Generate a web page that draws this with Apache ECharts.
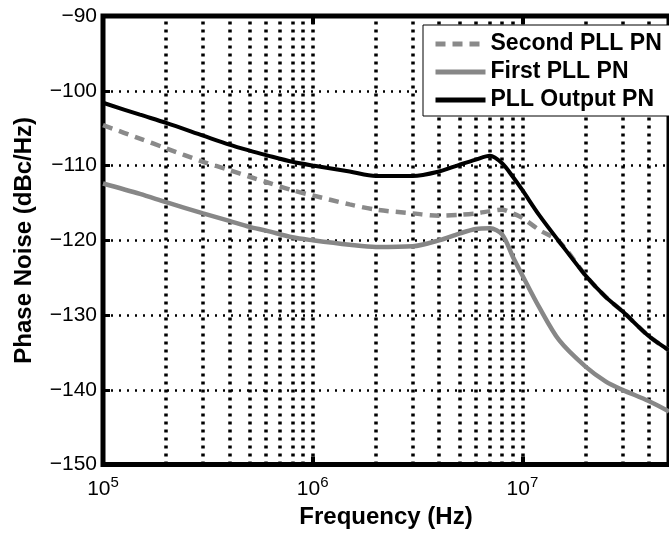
<!DOCTYPE html>
<html>
<head>
<meta charset="utf-8">
<script src="https://cdn.jsdelivr.net/npm/echarts@6/dist/echarts.min.js"></script>
<style>
  html, body { margin: 0; padding: 0; background: #fff; }
  #chart { width: 669px; height: 534px; }
</style>
</head>
<body>
<div id="chart"></div>
<script>
// Offset frequencies (Hz) at which the phase-noise curves are sampled
const freqs = [1e5, 1.5e5, 2e5, 3e5, 4e5, 5e5, 6e5, 8e5, 1e6, 1.5e6, 2e6, 3e6, 4e6, 5e6,
               6e6, 7e6, 8e6, 9e6, 1e7, 1.2e7, 1.5e7, 2e7, 2.5e7, 3e7, 4e7, 5e7];

// Phase noise in dBc/Hz
const secondPN = [-104.6, -106.4, -107.7, -109.5, -110.6, -111.5, -112.2, -113.3, -114.0, -115.2,
                  -115.9, -116.4, -116.7, -116.6, -116.4, -116.1, -115.9, -116.4, -117.0, -118.6,
                  -120.2, -124.7, -127.6, -129.5, -132.8, -134.7];
const firstPN  = [-112.4, -113.8, -114.9, -116.4, -117.4, -118.2, -118.7, -119.6, -120.0, -120.6,
                  -120.9, -120.8, -120.0, -119.1, -118.5, -118.4, -119.2, -122.2, -124.7, -128.9,
                  -133.4, -136.9, -138.9, -140.0, -141.5, -142.9];
const outputPN = [-101.6, -103.2, -104.3, -106.0, -107.2, -108.0, -108.6, -109.5, -110.0, -110.8,
                  -111.4, -111.4, -110.8, -109.9, -109.2, -108.7, -109.7, -111.5, -113.3, -116.6,
                  -120.2, -124.7, -127.6, -129.5, -132.8, -134.7];

const seriesNames = ['Second PLL PN', 'First PLL PN', 'PLL Output PN'];

// Frequency grid (log decades with 2..9 subdivisions)
const gridFreqs = [2e5, 3e5, 4e5, 5e5, 6e5, 7e5, 8e5, 9e5, 1e6,
                   2e6, 3e6, 4e6, 5e6, 6e6, 7e6, 8e6, 9e6, 1e7,
                   2e7, 3e7, 4e7];

const xMin = 1e5, xMax = 5e7;
const yMin = -150, yMax = -90, yStep = 10;

const FONT = '"Liberation Sans", Arial, Helvetica, sans-serif';

const zip = (xs, ys) => xs.map((x, i) => [x, ys[i]]);

const chart = echarts.init(document.getElementById('chart'), null, { renderer: 'canvas' });

const decadeLabel = (v) => {
  const e = Math.round(Math.log10(v));
  if (Math.abs(v - Math.pow(10, e)) / v > 1e-6) return '';
  return '{b|10}{s|' + e + '}';
};

chart.setOption({
  animation: false,
  backgroundColor: '#fff',
  grid: {
    left: 103, top: 16, width: 576, bottom: 69,
    show: true, borderColor: '#000', borderWidth: 5, backgroundColor: 'transparent'
  },
  legend: {
    data: seriesNames,
    orient: 'vertical',
    left: 423, top: 25,
    backgroundColor: '#fff',
    borderColor: '#000', borderWidth: 1, borderRadius: 0,
    padding: [7, 24, 4, 10],
    itemWidth: 50, itemHeight: 14, itemGap: 4,
    itemStyle: { opacity: 0 },
    lineStyle: { width: 5 },
    textStyle: { fontFamily: FONT, fontSize: 23, fontWeight: 'bold', color: '#000', lineHeight: 24 },
    z: 10
  },
  xAxis: [{
    type: 'log', logBase: 10, min: xMin, max: xMax,
    position: 'bottom',
    name: 'Frequency (Hz)', nameLocation: 'middle', nameGap: 37,
    nameTextStyle: { fontFamily: FONT, fontSize: 24, fontWeight: 'bold', color: '#000' },
    axisLine: { show: false },
    axisTick: { show: true, inside: true, length: 8, lineStyle: { color: '#000', width: 4 } },
    axisLabel: {
      margin: 11, formatter: decadeLabel, showMinLabel: true, showMaxLabel: false,
      rich: {
        b: { fontFamily: FONT, fontSize: 21, color: '#000', lineHeight: 28 },
        s: { fontFamily: FONT, fontSize: 15, color: '#000', lineHeight: 6, verticalAlign: 'top' }
      }
    },
    splitLine: { show: false }
  }, {
    type: 'log', logBase: 10, min: xMin, max: xMax,
    position: 'top',
    axisLine: { show: false },
    axisTick: { show: true, inside: true, length: 8, lineStyle: { color: '#000', width: 4 } },
    axisLabel: { show: false },
    splitLine: { show: false }
  }],
  yAxis: {
    type: 'value', min: yMin, max: yMax, interval: yStep,
    name: 'Phase Noise (dBc/Hz)', nameLocation: 'middle', nameGap: 67, nameRotate: 90,
    nameTextStyle: { fontFamily: FONT, fontSize: 24, fontWeight: 'bold', color: '#000' },
    axisLine: { show: false },
    axisTick: { show: true, inside: true, length: 7, lineStyle: { color: '#000', width: 3 } },
    axisLabel: {
      margin: 6, fontFamily: FONT, fontSize: 21, color: '#000',
      formatter: (v) => String(v).replace('-', '\u2212')
    },
    splitLine: { show: true, lineStyle: { color: '#000', width: 2.5, type: [2, 6] } }
  },
  series: [
    {
      name: 'Second PLL PN', type: 'line', data: zip(freqs, secondPN),
      symbol: 'none', smooth: 0.3, z: 3,
      lineStyle: { color: '#8a8a8a', width: 4.5, type: [10, 7] },
      itemStyle: { color: '#8a8a8a' },
      markLine: {
        silent: true, symbol: ['none', 'none'], label: { show: false },
        lineStyle: { color: '#000', width: 3.5, type: [3, 5] },
        emphasis: { disabled: true },
        data: gridFreqs.map((f) => ({ xAxis: f })),
        z: 1
      }
    },
    {
      name: 'First PLL PN', type: 'line', data: zip(freqs, firstPN),
      symbol: 'none', smooth: 0.3, z: 4,
      lineStyle: { color: '#878787', width: 4.5 },
      itemStyle: { color: '#878787' }
    },
    {
      name: 'PLL Output PN', type: 'line', data: zip(freqs, outputPN),
      symbol: 'none', smooth: 0.3, z: 5,
      lineStyle: { color: '#000', width: 4 },
      itemStyle: { color: '#000' }
    }
  ]
});
</script>
</body>
</html>
